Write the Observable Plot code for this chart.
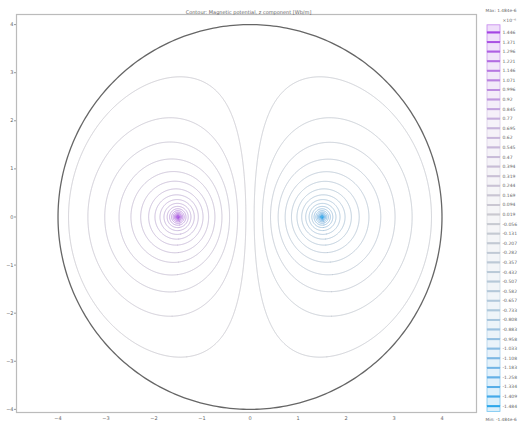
<!DOCTYPE html>
<html>
<head>
<meta charset="utf-8">
<script src="https://cdn.jsdelivr.net/npm/d3@7"></script>
<script src="https://cdn.jsdelivr.net/npm/@observablehq/plot@0.6"></script>
<style>
  html, body { margin: 0; padding: 0; background: #fff; }
  #wrap { position: relative; width: 522px; height: 424px; overflow: hidden; font-family: "DejaVu Sans", sans-serif; }
  #wrap > svg, #wrap > div { position: absolute; top: 0; }
</style>
</head>
<body>
<div id="wrap"></div>
<script>
// ---- data ----
const title = "Contour: Magnetic potential, z component [Wb/m]";
const levels = [1.446, 1.371, 1.296, 1.221, 1.146, 1.071, 0.996, 0.92, 0.845, 0.77,
  0.695, 0.62, 0.545, 0.47, 0.394, 0.319, 0.244, 0.169, 0.094, 0.019,
  -0.056, -0.131, -0.207, -0.282, -0.357, -0.432, -0.507, -0.582, -0.657, -0.733,
  -0.808, -0.883, -0.958, -1.033, -1.108, -1.183, -1.258, -1.334, -1.409, -1.484];
const maxLabel = "Max: 1.484e-6";
const minLabel = "Min: -1.484e-6";
const unitLabel = "×10⁻⁶";
const maxVal = 1.484, minVal = -1.484;
const xTicks = [-4, -3, -2, -1, 0, 1, 2, 3, 4];
const yTicks = [-4, -3, -2, -1, 0, 1, 2, 3, 4];
// model geometry: domain radius, wire positions, field scale
const domainR = 4;
const wireX = 1.5;
const fieldScale = 0.383;
const fieldSoft = 0.0565;
const wireR = 0.015;
// the two families look mirror-symmetric: centre the field between the two middle levels
const centerLevel = (levels[19] + levels[20]) / 2;

// potential of two antiparallel wires inside a grounded circle (image method)
const imgX = domainR * domainR / wireX;
function potential(x, y) {
  if (x * x + y * y >= domainR * domainR) return centerLevel;
  const dp = Math.max(Math.hypot(x + wireX, y), wireR);
  const dq = Math.max(Math.hypot(x - wireX, y), wireR);
  const dpi = Math.hypot(x + imgX, y);
  const dqi = Math.hypot(x - imgX, y);
  const f = Math.log((dpi * dq) / (dp * dqi));
  return fieldScale * f / (1 + fieldSoft * Math.abs(f)) + centerLevel;
}

// sample the field: left half for positive levels, right half (negated) for negative levels
const ext = 4.1, over = 0.3, res = 96;
const nx = Math.round((ext + over) * res), ny = Math.round(2 * ext * res);
const dx = (ext + over) / nx, dy = (2 * ext) / ny;
const posGrid = new Float64Array(nx * ny);
const negGrid = new Float64Array(nx * ny);
for (let j = 0; j < ny; ++j) {
  const y = ext - (j + 0.5) * dy;
  for (let i = 0; i < nx; ++i) {
    posGrid[j * nx + i] = potential(-ext + (i + 0.5) * dx, y);
    negGrid[j * nx + i] = -potential(-over + (i + 0.5) * dx, y);
  }
}
const contourGen = d3.contours().size([nx, ny]);
const isoPoints = [];
let ringId = 0;
for (const t of levels) {
  const grid = t > 0 ? posGrid : negGrid;
  const x0 = t > 0 ? -ext : -over;
  const geom = contourGen.contour(grid, Math.abs(t));
  for (const poly of geom.coordinates) {
    for (const ring of poly) {
      for (const [gx, gy] of ring) {
        isoPoints.push({x: x0 + gx * dx, y: ext - gy * dy, ring: ringId, level: t});
      }
      ringId++;
    }
  }
}

const colorInterp = d3.piecewise(d3.interpolateLab, ["#2aa6ea", "#aec8dc", "#cacad0", "#c6b2dc", "#a23ee4"]);
const colorOf = v => colorInterp((v - minVal) / (maxVal - minVal));

const circle = d3.range(0, 361).map(a => ({x: domainR * Math.cos(a * Math.PI / 180), y: domainR * Math.sin(a * Math.PI / 180)}));

const main = Plot.plot({
  width: 522, height: 424,
  marginLeft: 16, marginRight: 46, marginTop: 14, marginBottom: 12,
  x: {domain: [-4.865, 4.719], label: null},
  y: {domain: [-4.065, 4.21], label: null},
  color: {type: "linear", domain: [minVal, maxVal], interpolate: () => colorInterp},
  style: {fontFamily: "DejaVu Sans, sans-serif", fontSize: "5px", color: "#666", background: "#fff"},
  marks: [
    Plot.line(isoPoints, {x: "x", y: "y", z: "ring", stroke: "level", strokeWidth: 0.95}),
    Plot.line(circle, {x: "x", y: "y", stroke: "#666", strokeWidth: 1.3}),
    Plot.frame({stroke: "#bbb", strokeWidth: 1.2}),
    Plot.axisX({ticks: xTicks, tickSize: 0, tickPadding: 4, fontSize: 5, fill: "#666"}),
    Plot.axisY({ticks: yTicks, tickSize: 2, tickPadding: 1, fontSize: 5, fill: "#666", stroke: "#999"}),
    Plot.text([title], {frameAnchor: "top", dy: -4, dx: 2, fontSize: 5, fill: "#666"})
  ]
});
main.style.left = "0px";
document.getElementById("wrap").appendChild(main);

// ---- legend ----
const idx = levels.map((v, i) => ({v, i}));
const cells = d3.range(0, levels.length + 1).map(i => {
  const v = i < levels.length ? levels[i] : levels[levels.length - 1];
  return {y1: i === 0 ? -0.75 : i - 1, y2: i === levels.length ? levels.length - 0.4 : i, v};
});
const legend = Plot.plot({
  width: 52, height: 424,
  marginLeft: 17, marginRight: 22, marginTop: 0, marginBottom: 0,
  x: {domain: [0, 1], axis: null},
  y: {domain: [0, levels.length - 1], range: [32, 405.7], axis: null},
  style: {fontFamily: "DejaVu Sans, sans-serif", fontSize: "4.5px", color: "#666", background: "transparent", overflow: "visible"},
  marks: [
    Plot.rect(cells, {x1: 0, x2: 1, y1: "y1", y2: "y2",
      fill: d => d3.interpolateRgb(colorOf(d.v), "#fff")(0.82),
      stroke: d => d3.interpolateRgb(colorOf(d.v), "#fff")(0.35), strokeWidth: 0.8}),
    Plot.ruleY(idx, {y: "i", x1: 0, x2: 1, stroke: d => colorOf(d.v), strokeWidth: 2}),
    Plot.text(idx, {x: 1, y: "i", text: d => String(d.v), textAnchor: "start", dx: 2, fontSize: 4.5, fill: "#666"}),
    Plot.text([maxLabel], {x: 0, y: -2.3, text: d => d, textAnchor: "start", dx: -2, fontSize: 4.3, fill: "#666"}),
    Plot.text([unitLabel], {x: 1, y: -1.25, text: d => d, textAnchor: "start", dx: 2, fontSize: 4.5, fill: "#666"}),
    Plot.text([minLabel], {x: 0, y: 40.35, text: d => d, textAnchor: "start", dx: -2, fontSize: 4.3, fill: "#666"})
  ]
});
legend.style.left = "470px";
document.getElementById("wrap").appendChild(legend);
</script>
</body>
</html>
